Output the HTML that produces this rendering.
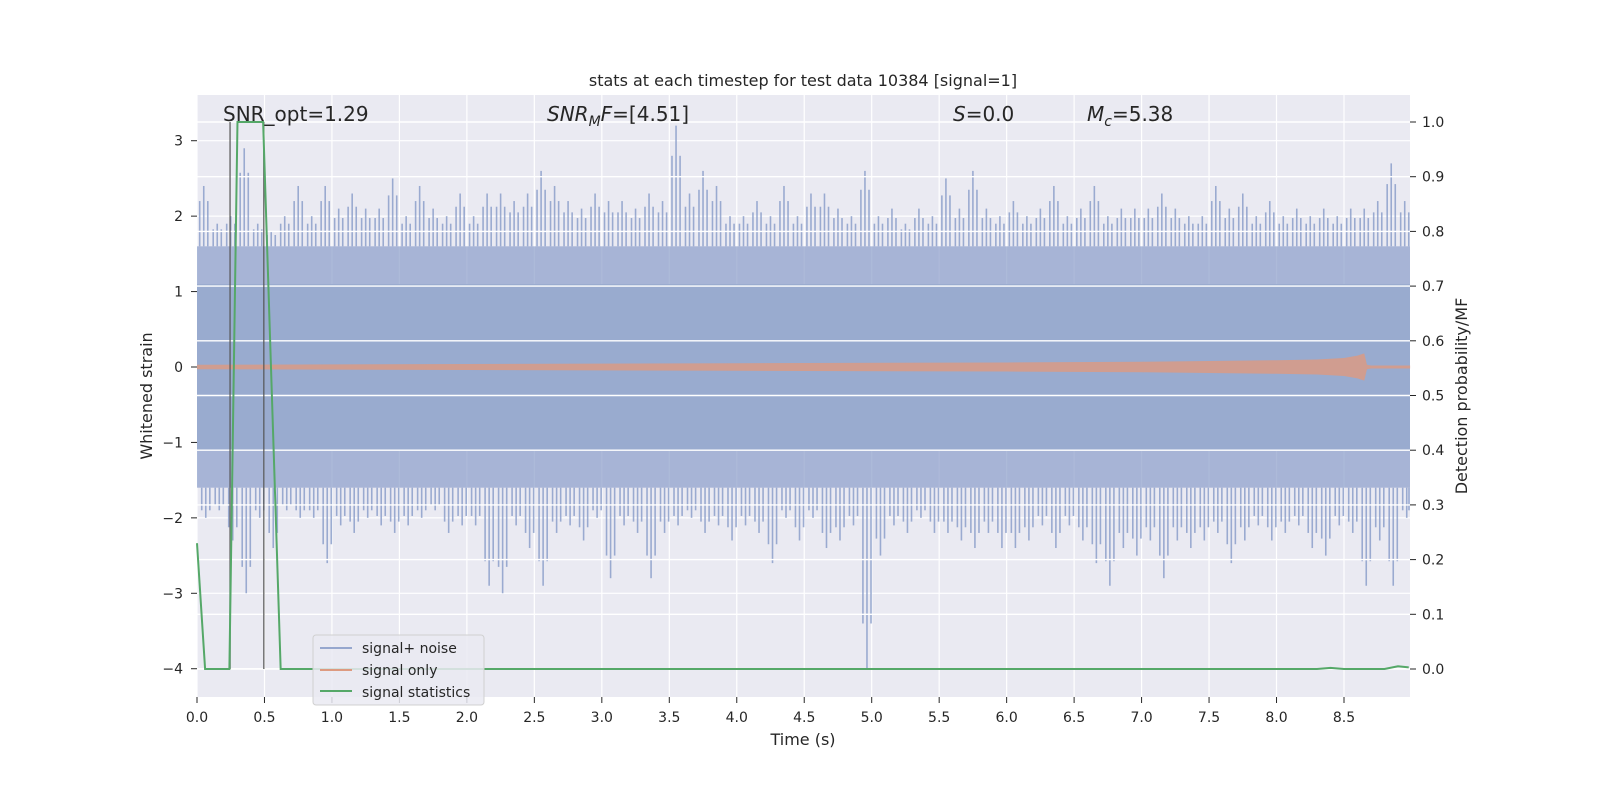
<!DOCTYPE html>
<html><head><meta charset="utf-8"><style>
html,body{margin:0;padding:0;background:#fff;overflow:hidden;width:100%;height:100%;}
svg{display:block;position:fixed;left:0;top:0;width:100vw;height:100vh;}
svg text{font-family:"DejaVu Sans","Liberation Sans",sans-serif;fill:#262626;}
</style></head><body>
<svg id="chart" viewBox="0 0 1600 800" preserveAspectRatio="none" xmlns="http://www.w3.org/2000/svg">
<rect x="197" y="95" width="1213" height="602" fill="#eaeaf2"/>
<g id="grid"></g><g id="marks"></g><g id="axes"></g>
<text x="803" y="86" text-anchor="middle" font-size="16">stats at each timestep for test data 10384 [signal=1]</text>
<text x="223" y="121" font-size="20">SNR_opt=1.29</text>
<text x="547" y="121" font-size="20"><tspan font-style="italic">SNR</tspan><tspan font-style="italic" font-size="14" dy="5">M</tspan><tspan font-style="italic" dy="-5">F</tspan>=[4.51]</text>
<text x="953" y="121" font-size="20"><tspan font-style="italic">S</tspan>=0.0</text>
<text x="1087" y="121" font-size="20"><tspan font-style="italic">M</tspan><tspan font-style="italic" font-size="14" dy="5">c</tspan><tspan dy="-5">=5.38</tspan></text>
<text x="803" y="745" text-anchor="middle" font-size="16">Time (s)</text>
<text transform="translate(152,396) rotate(-90)" text-anchor="middle" font-size="16">Whitened strain</text>
<text transform="translate(1467,396) rotate(-90)" text-anchor="middle" font-size="16">Detection probability/MF</text>
<g>
<rect x="313" y="635" width="171" height="70" rx="3" fill="#eaeaf2" fill-opacity="0.85" stroke="#d0d0d0"/>
<line x1="320" y1="648" x2="352" y2="648" stroke="#8da0cb" stroke-width="2" opacity="0.9"/>
<text x="362" y="653" font-size="14">signal+ noise</text>
<line x1="320" y1="670" x2="352" y2="670" stroke="#dd9a80" stroke-width="2"/>
<text x="362" y="675" font-size="14">signal only</text>
<line x1="320" y1="691" x2="352" y2="691" stroke="#55a868" stroke-width="2"/>
<text x="362" y="697" font-size="14">signal statistics</text>
</g>
</svg>
<script>
const xTicks=[0,0.5,1,1.5,2,2.5,3,3.5,4,4.5,5,5.5,6,6.5,7,7.5,8,8.5];
const yTicks=[-4,-3,-2,-1,0,1,2,3];
const y2Ticks=[0,0.1,0.2,0.3,0.4,0.5,0.6,0.7,0.8,0.9,1.0];
// noise envelope per 0.1 s bin
const noiseUpper=[2.4,1.9,2.0,2.9,1.9,1.8,2.0,2.4,2.0,2.4,2.1,2.3,2.1,2.1,2.5,2.0,2.4,2.1,2.0,2.3,2.0,2.3,2.3,2.2,2.3,2.6,2.4,2.2,2.1,2.3,2.2,2.2,2.1,2.3,2.2,3.2,2.3,2.6,2.4,2.0,2.0,2.2,2.0,2.4,2.0,2.3,2.3,2.1,2.0,2.6,2.0,2.1,1.9,2.1,2.0,2.5,2.1,2.6,2.1,2.0,2.2,2.0,2.1,2.4,2.0,2.1,2.4,2.0,2.1,2.1,2.1,2.3,2.1,2.0,2.0,2.4,2.1,2.3,2.0,2.2,2.0,2.1,2.0,2.1,2.0,2.1,2.1,2.2,2.7,2.2];
const noiseLower=[-2.0,-1.9,-2.3,-3.0,-2.0,-2.4,-1.9,-2.0,-2.0,-2.6,-2.1,-2.2,-2.0,-2.1,-2.2,-2.1,-2.0,-1.9,-2.2,-2.1,-2.1,-2.9,-3.0,-2.1,-2.4,-2.9,-2.2,-2.1,-2.3,-2.0,-2.8,-2.1,-2.2,-2.8,-2.2,-2.1,-2.0,-2.2,-2.1,-2.3,-2.1,-2.2,-2.6,-2.0,-2.3,-2.0,-2.4,-2.3,-2.1,-4.0,-2.5,-2.1,-2.2,-2.0,-2.2,-2.2,-2.3,-2.4,-2.2,-2.4,-2.4,-2.3,-2.1,-2.4,-2.1,-2.3,-2.6,-2.9,-2.4,-2.5,-2.3,-2.8,-2.3,-2.4,-2.3,-2.2,-2.6,-2.3,-2.1,-2.3,-2.2,-2.1,-2.4,-2.5,-2.1,-2.2,-2.9,-2.3,-2.9,-2.0];
const noiseCore=1.1;
const noiseDense=1.6;
const sigTimes=[0,2,4,6,7,7.5,8,8.3,8.5,8.6,8.65,8.67,8.7,8.99];
const sigAmp=[0.03,0.04,0.05,0.06,0.07,0.08,0.09,0.1,0.12,0.15,0.18,0.03,0.02,0.02];
const statTimes=[0,0.06,0.24,0.3,0.49,0.62,8.3,8.4,8.5,8.8,8.9,8.98];
const statValues=[0.23,0,0,1.0,1.0,0,0,0.002,0,0,0.005,0.003];
const markerTimes=[0.245,0.495];

const X=t=>197+t*134.94, Y=v=>367-v*75.43, Y2=p=>669-p*547;
const ns="http://www.w3.org/2000/svg";
function mk(tag,parent,attrs){const e=document.createElementNS(ns,tag);for(const k in attrs)e.setAttribute(k,attrs[k]);document.getElementById(parent).appendChild(e);return e;}
xTicks.forEach(t=>{
 let l=mk('line','grid',{x1:X(t),x2:X(t),y1:95,y2:697,stroke:'#fff','stroke-width':1.2});
 
 
 let tk=mk('line','axes',{x1:X(t),x2:X(t),y1:697,y2:703,stroke:'#262626'});
 
 
 let tx=mk('text','axes',{x:X(t),y:722,'text-anchor':'middle','font-size':14});tx.textContent=t.toFixed(1);
 
 
});
yTicks.forEach(v=>{
 let l=mk('line','grid',{x1:197,x2:1410,y1:Y(v),y2:Y(v),stroke:'#fff','stroke-width':1.2});
 
 
 let tk=mk('line','axes',{x1:191,x2:197,y1:Y(v),y2:Y(v),stroke:'#262626'});
 
 
 let tx=mk('text','axes',{x:183,y:Y(v)+5,'text-anchor':'end','font-size':14});tx.textContent=v<0?'\u2212'+(-v):String(v);
 
 
});
let dense=mk('rect','marks',{x:197,width:1213,y:Y(noiseDense),height:Y(-noiseDense)-Y(noiseDense),fill:'#8da0cb','fill-opacity':0.72});


noiseUpper.forEach((v,i)=>{
 const xs=[0.02,0.05,0.08];
 xs.forEach((o,j)=>{
  const f=j===1?1:0.75;
  let sp=mk('line','marks',{x1:Math.min(X(i*0.1+o),1409),x2:Math.min(X(i*0.1+o),1409),y1:Y(noiseDense+(v-noiseDense)*f),y2:Y(noiseDense),stroke:'#8da0cb','stroke-width':1.6,opacity:0.85});
  
  
  const lv=noiseLower[i];
  let sd=mk('line','marks',{x1:Math.min(X(i*0.1+o+0.015),1409),x2:Math.min(X(i*0.1+o+0.015),1409),y1:Y(-noiseDense),y2:Y(-noiseDense+(lv+noiseDense)*f),stroke:'#8da0cb','stroke-width':1.6,opacity:0.85});
  
  
 });
});
let core=mk('rect','marks',{x:197,width:1213,y:Y(noiseCore),height:Y(-noiseCore)-Y(noiseCore),fill:'#99abcf'});


y2Ticks.forEach(p=>{
 let l=mk('line','marks',{x1:197,x2:1410,y1:Y2(p),y2:Y2(p),stroke:'#fff','stroke-width':1.4});
 
 
 let tk=mk('line','axes',{x1:1410,x2:1416,y1:Y2(p),y2:Y2(p),stroke:'#262626'});
 
 
 let tx=mk('text','axes',{x:1422,y:Y2(p)+5,'font-size':14});tx.textContent=p.toFixed(1);
 
 
});
let su=sigTimes.map((t,i)=>[X(t),Y(sigAmp[i])]),sl=sigTimes.map((t,i)=>[X(t),Y(-sigAmp[i])]).reverse();
let sig=mk('polygon','marks',{points:su.concat(sl).map(p=>p.join(',')).join(' '),fill:'#dd9a80','fill-opacity':0.8});


markerTimes.forEach(t=>{
 let l=mk('line','marks',{x1:X(t),x2:X(t),y1:Y2(1),y2:Y2(0),stroke:'#555','stroke-width':1.5,opacity:0.8});
 
 
});
let st=mk('polyline','marks',{points:statTimes.map((t,i)=>X(t)+','+Y2(statValues[i])).join(' '),fill:'none',stroke:'#55a868','stroke-width':2});


</script>
</body></html>
